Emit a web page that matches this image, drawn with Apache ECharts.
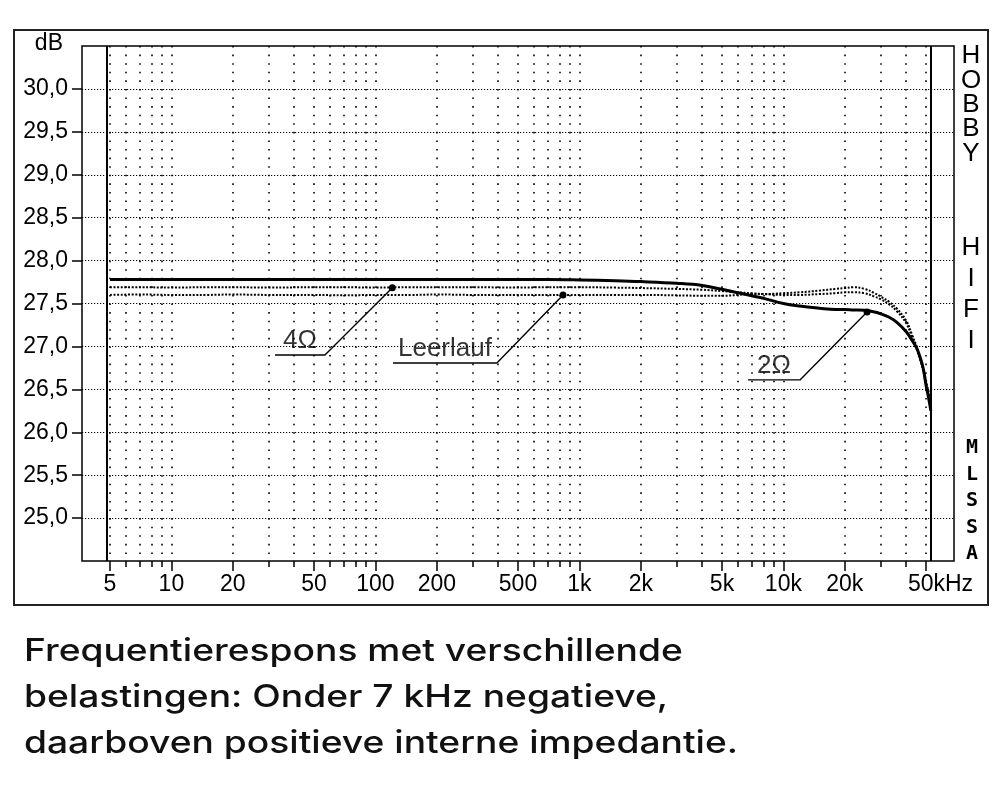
<!DOCTYPE html>
<html><head><meta charset="utf-8">
<script src="https://cdn.jsdelivr.net/npm/echarts@6/dist/echarts.min.js"></script>
<style>html,body{margin:0;padding:0;background:#fff}#c{width:1008px;height:806px}</style>
</head><body><div id="c"></div>
<script>
// ---- data (frequency in Hz, level in dB) ----
const freqs    = [5, 7, 10, 15, 20, 30, 50, 70, 100, 150, 200, 300, 500, 700, 1000, 1500, 2000, 3000, 4000, 5000, 6000, 7000, 8000, 10000, 12000, 15000, 18000, 20000, 22000, 25000, 28000, 30000, 33000, 36000, 40000, 43000, 45000, 47000, 48500, 50000, 51500, 52800];
const load2Ohm = [27.78, 27.78, 27.78, 27.78, 27.78, 27.78, 27.78, 27.78, 27.78, 27.78, 27.78, 27.78, 27.78, 27.78, 27.775, 27.765, 27.755, 27.735, 27.71, 27.665, 27.625, 27.59, 27.56, 27.50, 27.47, 27.445, 27.43, 27.43, 27.425, 27.42, 27.40, 27.38, 27.34, 27.28, 27.17, 27.06, 26.98, 26.86, 26.74, 26.55, 26.40, 26.25];
const load4Ohm = [27.69, 27.69, 27.685, 27.69, 27.69, 27.685, 27.69, 27.69, 27.685, 27.69, 27.69, 27.69, 27.685, 27.69, 27.69, 27.685, 27.68, 27.67, 27.66, 27.645, 27.63, 27.62, 27.61, 27.60, 27.60, 27.61, 27.62, 27.63, 27.63, 27.62, 27.58, 27.55, 27.49, 27.41, 27.27, 27.09, 26.97, 26.83, 26.71, 26.57, 26.44, 26.32];
const noLoad   = [27.60, 27.605, 27.60, 27.60, 27.605, 27.60, 27.60, 27.595, 27.60, 27.60, 27.605, 27.60, 27.60, 27.60, 27.60, 27.60, 27.60, 27.595, 27.59, 27.59, 27.60, 27.61, 27.61, 27.62, 27.63, 27.65, 27.67, 27.68, 27.69, 27.67, 27.62, 27.58, 27.52, 27.44, 27.30, 27.12, 27.00, 26.86, 26.74, 26.60, 26.47, 26.35];

const yTickValues  = [25, 25.5, 26, 26.5, 27, 27.5, 28, 28.5, 29, 29.5, 30];
const xLabelValues = [5, 10, 20, 50, 100, 200, 500, 1000, 2000, 5000, 10000, 20000, 50000];
const xLabelTexts  = ['5', '10', '20', '50', '100', '200', '500', '1k', '2k', '5k', '10k', '20k', '50kHz'];
const xGridValues  = [5, 6, 7, 8, 9, 10, 20, 30, 40, 50, 60, 70, 80, 90, 100, 200, 300, 400, 500, 600, 700, 800, 900,
                      1000, 2000, 3000, 4000, 5000, 6000, 7000, 8000, 9000, 10000, 20000, 30000, 40000, 50000];
const frameFreqs   = [4.83, 52900];

// callouts: label, underline start, underline end, target point on curve
const calloutTexts   = ['4Ω', 'Leerlauf', '2Ω'];
const calloutFrom    = [[32.2, 26.90], [122, 26.807], [6706, 26.61]];
const calloutTo      = [[56.6, 26.90], [394, 26.807], [12057, 26.61]];
const calloutTargets = [[121, 27.684], [831, 27.599], [25700, 27.40]];

const brandTop    = ['H', 'O', 'B', 'B', 'Y'];
const brandBottom = ['H', 'I', 'F', 'I'];
const brandTool   = ['M', 'L', 'S', 'S', 'A'];
const captionLines = ['Frequentierespons met verschillende', 'belastingen: Onder 7 kHz negatieve,', 'daarboven positieve interne impedantie.'];

// ---- chart ----
const chart = echarts.init(document.getElementById('c'), null, {renderer: 'canvas'});
const AX_FONT = 'Liberation Sans';
const zip = (xs, ys) => xs.map((x, i) => [x, ys[i]]);
const xMin = 5 / Math.pow(10, 28 / 204), xMax = 50000 * Math.pow(10, 28 / 204);

const calloutSeries = [];
calloutTexts.forEach((t, i) => {
  const mid = [Math.sqrt(calloutFrom[i][0] * calloutTo[i][0]), calloutFrom[i][1]];
  calloutSeries.push({
    type: 'line', silent: true, z: 5,
    symbol: 'none', showSymbol: true, showAllSymbol: true,
    lineStyle: {color: '#000', width: 1.4},
    data: [
      {value: calloutFrom[i]},
      {value: calloutTo[i]},
      {value: calloutTargets[i], symbol: 'circle', symbolSize: 7, itemStyle: {color: '#000'}}
    ]
  });
  calloutSeries.push({
    type: 'scatter', silent: true, z: 6, symbolSize: 0,
    data: [mid],
    label: {show: true, position: 'top', distance: 1, formatter: t,
      fontFamily: AX_FONT, fontSize: 26, color: '#000'}
  });
});

const graphics = [
  {type: 'rect', shape: {x: 14, y: 30, width: 974, height: 575}, style: {fill: 'none', stroke: '#222', lineWidth: 2}, silent: true},
  {type: 'text', style: {text: brandTop.join('\n'), x: 971, y: 44, font: '26px "Liberation Sans"', fill: '#000', align: 'center', verticalAlign: 'top', lineHeight: 24.3}, silent: true},
  {type: 'text', style: {text: brandBottom.join('\n'), x: 971, y: 232, font: '26px "Liberation Sans"', fill: '#000', align: 'center', verticalAlign: 'top', lineHeight: 31}, silent: true},
  {type: 'text', style: {text: brandTool.join('\n'), x: 972, y: 435, font: 'bold 20px "DejaVu Sans Mono"', fill: '#000', align: 'center', verticalAlign: 'top', lineHeight: 26.5}, silent: true},
  {type: 'text', x: 24, y: 629, scaleX: 1.2, style: {text: captionLines.join('\n'), x: 0, y: 0, font: '500 31px Inter', fill: '#111', align: 'left', verticalAlign: 'top', lineHeight: 46}, silent: true}
];

const option = {
  animation: false,
  backgroundColor: '#fff',
  grid: {left: 82, right: 54, top: 46, bottom: 245, show: true, borderColor: '#000', borderWidth: 1.5, backgroundColor: 'transparent'},
  xAxis: [
    {
      type: 'log', min: xMin, max: xMax, logBase: 10,
      axisLine: {show: false},
      axisTick: {show: true, length: 10, customValues: xLabelValues, lineStyle: {color: '#000', width: 1.5}},
      axisLabel: {show: true, customValues: xLabelValues, margin: 12, color: '#000', fontFamily: AX_FONT, fontSize: 23,
        formatter: v => {
          let idx = xLabelValues.findIndex(x => Math.abs(x - v) / x < 1e-6);
          if (idx < 0) return '';
          const t = xLabelTexts[idx];
          return idx === xLabelValues.length - 1 ? '{k|' + t + '}' : t;
        },
        rich: {k: {fontFamily: AX_FONT, fontSize: 23, color: '#000', padding: [0, 0, 0, 29]}}
      },
      splitLine: {show: false}, minorTick: {show: false}, minorSplitLine: {show: false}
    },
    {
      type: 'log', min: xMin, max: xMax, logBase: 10, position: 'bottom',
      axisLine: {show: false},
      axisTick: {show: true, length: 6, customValues: xGridValues, lineStyle: {color: '#000', width: 1.5}},
      axisLabel: {show: false},
      splitLine: {show: true, lineStyle: {color: '#000', width: 1.6, type: [1.6, 6.983]}}
    }
  ],
  yAxis: {
    type: 'value', min: 24.5, max: 30.5, interval: 0.5,
    name: 'dB', nameLocation: 'end', nameGap: 2,
    nameTextStyle: {fontFamily: AX_FONT, fontSize: 23, color: '#000', align: 'right', verticalAlign: 'middle', padding: [0, 19, 0, 0]},
    axisLine: {show: false},
    axisTick: {show: true, length: 10, customValues: yTickValues, lineStyle: {color: '#000', width: 1.5}},
    axisLabel: {show: true, customValues: yTickValues, margin: 14, color: '#000', fontFamily: AX_FONT, fontSize: 23,
      formatter: v => v.toFixed(1).replace('.', ',')},
    splitLine: {show: true, lineStyle: {color: '#000', width: 1.2, type: [1.2, 1.8]}}
  },
  graphic: graphics,
  series: [
    {
      name: 'Leerlauf', type: 'line', data: zip(freqs, noLoad), symbol: 'none', smooth: 0.4, z: 3, silent: true,
      lineStyle: {color: '#000', width: 2, type: [2, 1.6]}
    },
    {
      name: '4Ω', type: 'line', data: zip(freqs, load4Ohm), symbol: 'none', smooth: 0.4, z: 3, silent: true,
      lineStyle: {color: '#000', width: 2, type: [2, 1.6]}
    },
    {
      name: '2Ω', type: 'line', data: zip(freqs, load2Ohm), symbol: 'none', smooth: 0.4, z: 4, silent: true,
      lineStyle: {color: '#000', width: 3},
      markLine: {silent: true, symbol: ['none', 'none'], label: {show: false},
        lineStyle: {type: 'solid', color: '#000', width: 2},
        data: frameFreqs.map(f => ({xAxis: f}))}
    }
  ].concat(calloutSeries)
};
chart.setOption(option);
</script>
</body></html>
